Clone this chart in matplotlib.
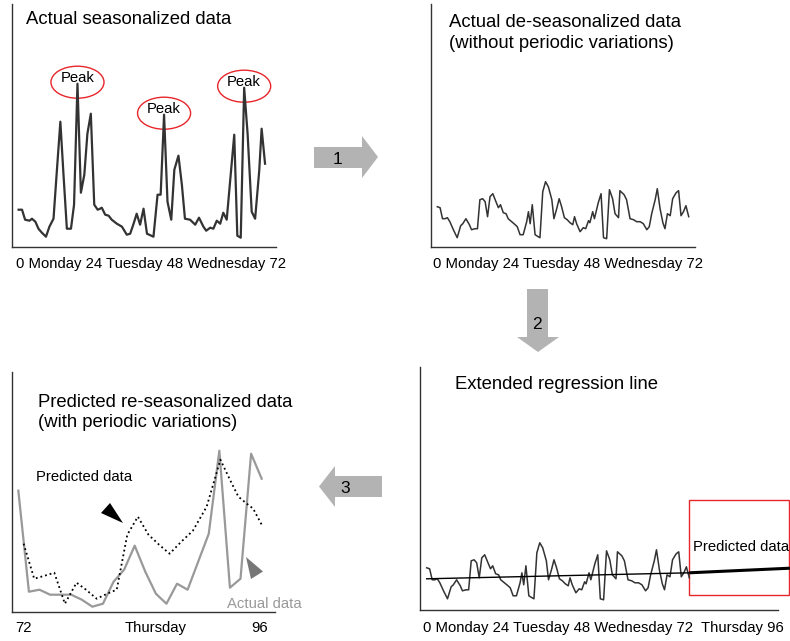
import matplotlib
matplotlib.use('Agg')
import matplotlib.pyplot as plt
from matplotlib.patches import Ellipse, Polygon, Rectangle

plt.rcParams['font.family'] = ['Liberation Sans', 'DejaVu Sans']

W, H = 790, 641

# actual seasonalized data, hours 0-72
season_hours = [0.0, 1.0, 1.9, 3.2, 3.9, 4.9, 5.8, 6.8, 8.0, 9.0, 10.2, 11.2, 12.2, 13.1, 14.1,
                15.3, 16.2, 17.2, 18.2, 19.2, 20.1, 21.1, 22.1, 23.1, 23.8, 24.3, 25.3, 26.3, 27.2,
                28.7, 30.2, 31.6, 32.6, 33.6, 34.5, 35.5, 36.5, 37.5, 39.4, 40.6, 41.5, 42.5, 43.5,
                44.6, 45.5, 46.7, 47.7, 48.6, 50.1, 51.6, 52.7, 54.0, 54.8, 56.0, 56.9, 57.9, 58.9,
                59.8, 60.8, 63.0, 63.9, 64.9, 65.9, 66.9, 68.1, 69.1, 70.3, 71.0, 72.0]
season_values = [37, 37, 27, 26, 28, 25, 18, 14, 10, 20, 28, 77, 125, 73, 18, 18, 42, 163, 54, 72,
                 113, 133, 42, 37, 38, 39, 32, 31, 27, 23, 20, 12, 13, 23, 33, 22, 38, 13, 10, 52,
                 52, 132, 45, 27, 77, 91, 62, 28, 27, 22, 29, 20, 16, 19, 18, 26, 23, 34, 27, 112,
                 11, 9, 159, 113, 35, 28, 76, 118, 83]

# de-seasonalized data
deseason_hours = [0.0, 0.8, 1.5, 2.2, 2.9, 3.6, 4.6, 5.7, 6.7, 7.3, 8.2, 9.2, 9.8, 10.8, 11.5,
                  12.2, 13.0, 13.7, 14.4, 15.1, 15.9, 16.8, 17.5, 18.1, 18.9, 19.7, 20.3, 21.3,
                  22.3, 22.9, 23.7, 24.6, 25.6, 26.1, 26.6, 27.2, 28.0, 28.9, 29.4, 30.2, 31.0,
                  31.8, 32.8, 33.4, 34.2, 34.9, 35.6, 36.4, 37.2, 38.0, 38.8, 39.3, 39.9, 40.9,
                  41.8, 42.5, 43.3, 43.7, 44.5, 45.0, 46.1, 46.9, 47.6, 48.5, 49.3, 50.2, 50.9,
                  51.9, 52.3, 53.5, 54.2, 55.2, 56.2, 57.1, 58.1, 59.0, 60.0, 60.7, 61.4, 62.4,
                  63.0, 63.8, 64.6, 65.2, 65.9, 66.7, 67.4, 68.4, 69.1, 69.8, 70.5, 71.2, 72.0]
deseason_values = [40, 39, 28, 28, 29, 25, 17, 9, 21, 23,
                   28, 22, 17, 18, 18, 47, 48, 45, 30, 50,
                   53, 45, 39, 42, 34, 33, 28, 25, 22, 20,
                   12, 12, 25, 35, 23, 42, 12, 10, 9, 55,
                   65, 60, 47, 28, 38, 48, 40, 29, 27, 24,
                   22, 30, 23, 15, 19, 18, 26, 24, 35, 28,
                   44, 53, 9, 8, 57, 48, 33, 29, 56, 52,
                   47, 28, 27, 25, 25, 23, 17, 20, 33, 47,
                   58, 38, 24, 18, 33, 31, 48, 54, 56, 31,
                   35, 41, 30]

# regression line (fitted part to 72, extended after)
trend_hours = [0, 72, 99.6]
trend_values = [29, 35, 39.6]

# Thursday, hours 72-96
actual_hours = [72, 73, 74, 75, 76, 77, 78, 79, 80, 81, 82, 83, 84, 85, 86, 87, 88, 90, 91, 92, 93, 94, 95]
actual_values = [121, 20, 22, 17, 17, 17, 12, 5, 8, 30, 42, 66, 40, 18, 8, 28, 22, 78, 161, 24, 33, 158, 133]
pred_hours = [72.5, 73.5, 74.5, 75.4, 76.4, 77.5, 78.4, 79.4, 80.4, 81.3, 82.3, 83.3, 84.3, 85.3,
              86.3, 87.4, 88.5, 89.8, 91.1, 92.0, 92.8, 93.6, 94.2, 95.0]
pred_values = [68, 33, 36, 39, 8, 29, 22, 13, 18, 22, 77, 95, 77, 67, 58, 70, 81, 105, 152, 132,
               115, 108, 103, 87]

day_labels = ['0', 'Monday', '24', 'Tuesday', '48', 'Wednesday', '72']
peak_windows = [(0, 24), (24, 48), (48, 72)]

line_col = '#333333'
arrow_col = '#b3b3b3'
red = '#e8262b'
small = 10.75

fig = plt.figure(figsize=(W / 100, H / 100), dpi=100)


def panel(left, top, right, bottom, xlim, ylim):
    ax = fig.add_axes([left / W, 1 - bottom / H, (right - left) / W, (bottom - top) / H])
    ax.set_facecolor('none')
    ax.set_xlim(*xlim)
    ax.set_ylim(*ylim)
    for s in ['top', 'right']:
        ax.spines[s].set_visible(False)
    for s in ['left', 'bottom']:
        ax.spines[s].set_color(line_col)
        ax.spines[s].set_linewidth(1.0)
    ax.set_xticks([])
    ax.set_yticks([])
    return ax


# 1: seasonalized
ax1 = panel(12.3, 4, 276, 246.7, (-1.84, 75.2), (0, 242.7))
ax1.plot(season_hours, season_values, color=line_col, lw=1.6)
for lo, hi in peak_windows:
    idx = [i for i, h in enumerate(season_hours) if lo <= h < hi]
    i = max(idx, key=lambda k: season_values[k])
    px, py = season_hours[i], season_values[i] + 1.5
    ax1.add_patch(Ellipse((px, py), 15.5, 32, fill=False, ec=red, lw=1.0))
    ax1.text(px, py, 'Peak', ha='center', va='baseline', fontsize=small)

# 2: de-seasonalized
ax2 = panel(431, 4, 695, 246.7, (-1.8, 73.8), (0, 242.7))
ax2.plot(deseason_hours, deseason_values, color=line_col, lw=1.1)

# 3: re-seasonalized prediction
ax3 = panel(12.3, 371.7, 275, 611.7, (71.43, 96.26), (0, 240))
ax3.plot(actual_hours, actual_values, color='#999999', lw=1.6)
ax3.plot(pred_hours, pred_values, color='black', lw=1.3, ls=':')

# 4: extended regression
ax4 = panel(420, 367.3, 778.3, 610, (-1.84, 96.4), (-2.2, 240.5))
ax4.plot(deseason_hours, deseason_values, color=line_col, lw=1.1)
ax4.plot(trend_hours[:2], trend_values[:2], color='black', lw=1.0)
ax4.plot(trend_hours[1:], trend_values[1:], color='black', lw=2.2, clip_on=False,
         solid_capstyle='butt')
ax4.add_patch(Rectangle((trend_hours[1], 13.3), 27.3, 95, fill=False, ec=red, lw=1.0,
                        clip_on=False))
ax4.text(72.9, 57, 'Predicted data', ha='left', va='baseline', fontsize=small)

# overlay in pixel coordinates for arrows and labels
ov = fig.add_axes([0, 0, 1, 1])
ov.set_xlim(0, W)
ov.set_ylim(H, 0)
ov.axis('off')

ov.add_patch(Polygon([(314, 147), (362, 147), (362, 136), (378, 157), (362, 178), (362, 168),
                      (314, 168)], closed=True, fc=arrow_col, ec='none'))
ov.add_patch(Polygon([(527, 289), (548, 289), (548, 337), (559, 337), (538, 352), (517, 337),
                      (527, 337)], closed=True, fc=arrow_col, ec='none'))
ov.add_patch(Polygon([(382, 476), (335, 476), (335, 466), (319, 486.5), (335, 507), (335, 497),
                      (382, 497)], closed=True, fc=arrow_col, ec='none'))
ov.text(338, 164.3, '1', ha='center', va='baseline', fontsize=12.5)
ov.text(537, 329, '2', ha='center', va='baseline', fontsize=12.5)
ov.text(345, 493.3, '3', ha='center', va='baseline', fontsize=12.5)

ov.add_patch(Polygon([(101, 513), (110, 503), (123, 523)], closed=True, fc='black', ec='none'))
ov.add_patch(Polygon([(246, 557), (263, 571.5), (251, 579)], closed=True, fc='#777777', ec='none'))

ts = 13.3
ov.text(26, 24, 'Actual seasonalized data', fontsize=ts, va='baseline')
ov.text(449, 26.7, 'Actual de-seasonalized data', fontsize=ts, va='baseline')
ov.text(449, 48, '(without periodic variations)', fontsize=ts, va='baseline')
ov.text(38, 406.7, 'Predicted re-seasonalized data', fontsize=ts, va='baseline')
ov.text(38, 427, '(with periodic variations)', fontsize=ts, va='baseline')
ov.text(455, 389.3, 'Extended regression line', fontsize=ts, va='baseline')

ov.text(36, 480.7, 'Predicted data', fontsize=small, va='baseline')
ov.text(226.7, 608.3, 'Actual data', fontsize=small, va='baseline', color='#999999')

ov.text(16, 268.3, ' '.join(day_labels), fontsize=small, va='baseline')
ov.text(432.7, 268.3, ' '.join(day_labels), fontsize=small, va='baseline')
ov.text(423.3, 631.7, ' '.join(day_labels) + '  Thursday 96', fontsize=small, va='baseline')
ov.text(23, 631.7, '72', fontsize=small, va='baseline', ha='center')
ov.text(156, 631.7, 'Thursday', fontsize=small, va='baseline', ha='center')
ov.text(260, 631.7, '96', fontsize=small, va='baseline', ha='center')

fig.savefig('out.png', dpi=100)
